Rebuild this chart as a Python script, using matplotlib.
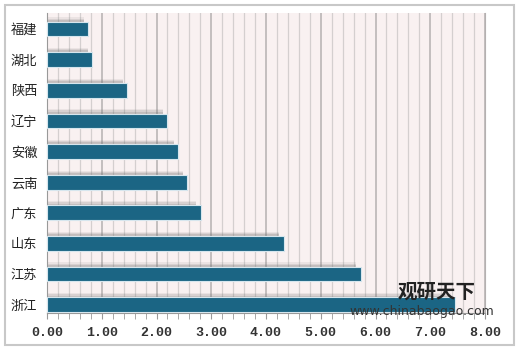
import matplotlib
matplotlib.use("Agg")
import matplotlib.pyplot as plt
from matplotlib.patches import Rectangle
import numpy as np

plt.rcParams['font.family'] = ['Noto Sans CJK SC', 'DejaVu Sans']

provinces = ["浙江", "江苏", "山东", "广东", "云南", "安徽", "辽宁", "陕西", "湖北", "福建"]
values = [7.45, 5.73, 4.32, 2.81, 2.56, 2.40, 2.19, 1.46, 0.83, 0.75]
xticks = [0, 1, 2, 3, 4, 5, 6, 7, 8]
xticklabels = ["0.00", "1.00", "2.00", "3.00", "4.00", "5.00", "6.00", "7.00", "8.00"]

fig = plt.figure(figsize=(5.2, 3.51), dpi=100)
fig.patch.set_facecolor("white")
# outer frame
fig.patches.append(Rectangle((5/520, 6/351), 509/520, 340/351, transform=fig.transFigure,
                             fill=False, edgecolor="#c8c8c8", linewidth=1.5))

ax = fig.add_axes([47/520, 1-313/351, 438/520, 300/351])
ax.set_facecolor("#f9f1f1")

ypos = np.arange(len(provinces))
bar_h = 0.48
# soft shadow
for dy, a in [(0.14, 0.10), (0.10, 0.15), (0.06, 0.2)]:
    ax.barh(ypos + dy, [v - 0.08 for v in values], height=bar_h, color="#707070", alpha=a,
            zorder=2, linewidth=0)
ax.barh(ypos, values, height=bar_h, color="#1b6584", edgecolor="#d6e6ee", linewidth=0.8, zorder=3)

ax.set_xlim(0, 8)
ax.set_ylim(-0.27, 9.52)
ax.set_xticks(xticks)
ax.set_xticklabels(xticklabels, family=["Liberation Mono", "DejaVu Sans Mono"], fontsize=9.5,
                   fontweight="bold", color="#333333")
ax.set_xticks(np.arange(0, 8.01, 0.2), minor=True)
ax.grid(which="minor", axis="x", color="#d4cfcf", linewidth=0.9, zorder=1)
ax.grid(which="major", axis="x", color="#b4b0b0", linewidth=1.1, zorder=1)
ax.set_yticks(ypos)
ax.set_yticklabels(provinces, fontsize=9.5, color="#222222")
ax.tick_params(axis="y", length=0, pad=7)
ax.tick_params(axis="x", which="both", length=4, color="#999999", direction="out", pad=6)

ax.spines["top"].set_visible(False)
ax.spines["right"].set_color("#b4b0b0")
ax.spines["left"].set_color("#999999")
ax.spines["bottom"].set_color("#999999")

# watermark
fig.text(398/520, 1-292/351, "观研天下", fontsize=14, fontweight="bold", color="#222222",
         ha="left", va="center", zorder=10)
fig.text(349/520, 1-311/351, "www.chinabaogao.com", fontsize=9, color="#333333",
         ha="left", va="center", family=["DejaVu Sans"], zorder=10)

fig.savefig("out.png", dpi=100)
